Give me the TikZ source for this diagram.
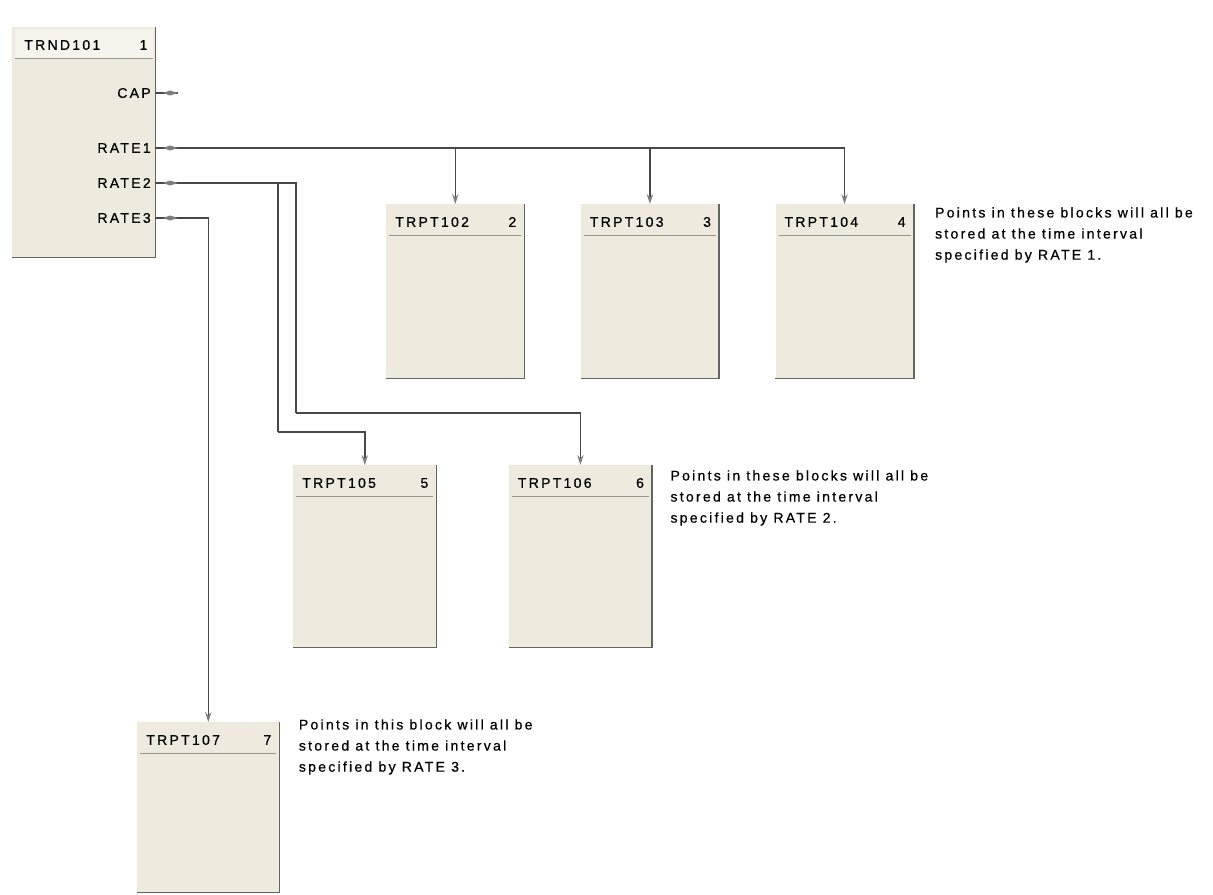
\documentclass[tikz,border=0pt]{standalone}
\usepackage{fontspec}
\setmainfont{Liberation Sans}[LetterSpace=16, FakeBold=0.6]
\usetikzlibrary{arrows.meta, positioning}

\definecolor{blockfill}{RGB}{238,235,222}
\definecolor{hdrlight}{RGB}{246,244,237}
\definecolor{wire}{RGB}{72,72,72}
\definecolor{tipgray}{RGB}{125,125,125}
\definecolor{edge}{RGB}{100,100,96}
\definecolor{hdrgray}{RGB}{150,150,140}

\begin{document}
\begin{tikzpicture}[x=0.025cm, y=-0.025cm, font=\fontsize{10}{15}\selectfont,
    blk/.style={fill=blockfill, draw=none, inner sep=0pt, anchor=north west,
      minimum width=3.45cm, minimum height=4.35cm,
      path picture={\draw[hdrgray, line width=0.6pt]
        ([shift={(3,31)}]path picture bounding box.north west) --
        ([shift={(-3,31)}]path picture bounding box.north east);}},
    hdr/.style={inner sep=0pt, anchor=west},
    num/.style={inner sep=0pt, anchor=east},
    pinlbl/.style={inner sep=0pt, anchor=east},
    note/.style={inner sep=0pt, anchor=north west, align=left},
    wire/.style={draw=wire, line width=1pt},
    intip/.tip={Stealth[length=7pt, width=4.5pt, color=tipgray]}]
    \useasboundingbox (0,0) rectangle (1213,895);

    % trend block
    \node[blk, minimum width=3.575cm, minimum height=5.75cm] (trnd) at (12,27) {};
    \fill[hdrlight] ([shift={(3,2)}]trnd.north west) rectangle ([shift={(-3,31)}]trnd.north east);
    \draw[hdrgray, line width=0.6pt] ([shift={(3,31)}]trnd.north west) -- ([shift={(-3,31)}]trnd.north east);
    \node[hdr] (trndn) at ([shift={(12,18)}]trnd.north west) {TRND101};
    \node[num] (trndk) at ([shift={(-8,18)}]trnd.north east) {1};
    \coordinate (cap) at (155,93);
    \coordinate (capend) at (178,93);
    \coordinate (r1) at (155,148);
    \coordinate (r2) at (155,183);
    \coordinate (r3) at (155,218);
    \node[pinlbl, left=0.1cm of cap] (lcap) {CAP};
    \node[pinlbl, left=0.1cm of r1] (lr1) {RATE1};
    \node[pinlbl, left=0.1cm of r2] (lr2) {RATE2};
    \node[pinlbl, left=0.1cm of r3] (lr3) {RATE3};

    % point blocks on RATE1
    \node[blk] (t102) at (386,204) {};
    \node[blk, right=1.4cm of t102.north east, anchor=north west] (t103) {};
    \node[blk, right=1.4cm of t103.north east, anchor=north west] (t104) {};
    % point blocks on RATE2
    \node[blk, minimum width=3.575cm, minimum height=4.55cm] (t105) at (293,465) {};
    \node[blk, minimum width=3.575cm, minimum height=4.55cm,
      right=1.8cm of t105.north east, anchor=north west] (t106) {};
    % point block on RATE3
    \node[blk, minimum width=3.55cm, minimum height=4.25cm] (t107) at (137,722) {};

    \foreach \b/\t/\k in {t102/TRPT102/2, t103/TRPT103/3, t104/TRPT104/4,
        t105/TRPT105/5, t106/TRPT106/6, t107/TRPT107/7} {
      \node[hdr] (\b n) at ([shift={(9,18)}]\b.north west) {\t};
      \node[num] (\b k) at ([shift={(-8,18)}]\b.north east) {\k};
    }

    % shadow edges
    \foreach \b in {trnd,t102,t103,t104,t105,t106,t107}
      \draw[edge, line width=1.2pt] (\b.north east) -- (\b.south east) -- (\b.south west);

    % wiring
    \coordinate (j5) at (278,432);
    \coordinate (j6) at (296,413);
    \draw[wire] (cap) -- (capend);
    \draw[wire, -intip] (r1) -| (t102.north);
    \draw[wire, -intip] (r1) -| (t103.north);
    \draw[wire, -intip] (r1) -| (t104.north);
    \draw[wire] (r2) -| (j5);
    \draw[wire, -intip] (j5) -| (t105.north);
    \draw[wire] (r2) -| (j6);
    \draw[wire, -intip] (j6) -| (t106.north);
    \draw[wire, -intip] (r3) -| (t107.north);

    % pin marks
    \foreach \p in {cap,r1,r2,r3}
      \fill[tipgray] ([shift={(8,0)}]\p) -- ++(7,-2.5) -- ++(8,2.5) -- ++(-8,2.5) -- cycle;

    % notes
    \node[note] (n1) at ([shift={(21,3)}]t104.north east)
      {Points in these blocks will all be\\stored at the time interval\\specified by RATE 1.};
    \node[note] (n2) at ([shift={(18,5)}]t106.north east)
      {Points in these blocks will all be\\stored at the time interval\\specified by RATE 2.};
    \node[note] (n3) at ([shift={(19,-3)}]t107.north east)
      {Points in this block will all be\\stored at the time interval\\specified by RATE 3.};
\end{tikzpicture}
\end{document}
